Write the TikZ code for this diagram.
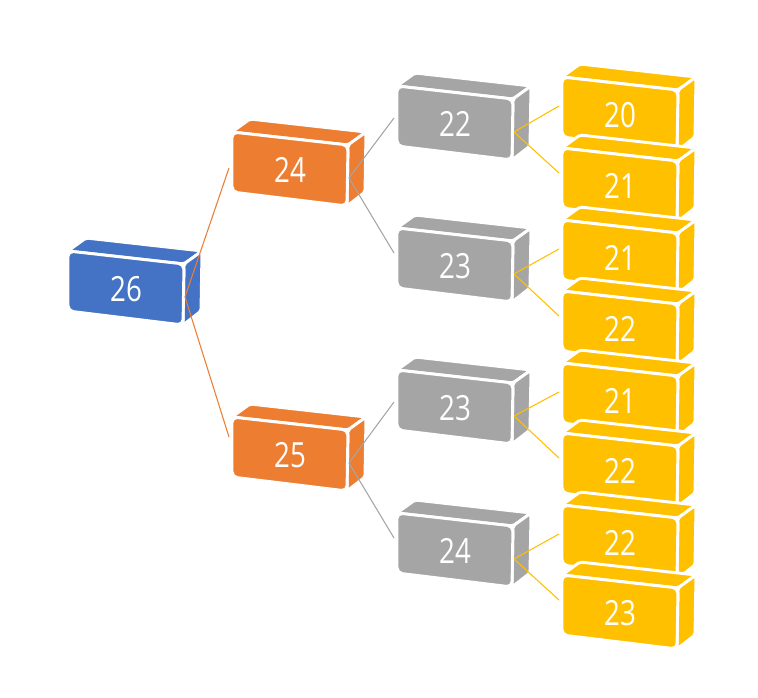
\documentclass[tikz,border=0pt]{standalone}
\usepackage{fontspec}
\setmainfont{Open Sans}
\definecolor{cblue}{HTML}{4472C4}
\definecolor{corange}{HTML}{ED7D31}
\definecolor{cgrey}{HTML}{A5A5A5}
\definecolor{cyellow}{HTML}{FFC000}
\tikzset{
  face/.style={draw=white,line width=2.2pt,line join=round,rounded corners=1.5pt},
  frontface/.style={draw=white,line width=2.2pt,line join=round,rounded corners=4pt},
  lbl/.style={text=white,font=\fontsize{26}{26}\selectfont,inner sep=0pt},
  conn/.style={line width=0.8pt}
}
\newcommand\mycube[6]{% name, x, y, color, label, in-offset
  \begin{scope}[shift={(#2,#3)}]
    \draw[face,fill=#4] (-1,-1) -- (115,12) -- (133,-1) -- (17,-14) -- cycle;
    \draw[face,fill=#4] (115,12) -- (133,-1) -- (132,59) -- (114,73) -- cycle;
    \draw[frontface,fill=#4] (-1,-1) -- (115,12) -- (114,73) -- (-1,59) -- cycle;
    \node[lbl] (#1) at (57,37) {\scalebox{0.8}[1]{#5}};
    \coordinate (#1-out) at (116,45);
    \coordinate (#1-in) at (-4,#6);
  \end{scope}}
\begin{document}
\begin{tikzpicture}[x=0.75pt,y=-0.75pt]
\useasboundingbox (0,0) rectangle (758,698);
\mycube{a26}{69}{252}{cblue}{26}{0}
\mycube{b24}{233}{133}{corange}{24}{35}
\mycube{b25}{233}{418}{corange}{25}{19}
\mycube{c22}{398}{87}{cgrey}{22}{31}
\mycube{c23a}{398}{229}{cgrey}{23}{24}
\mycube{c23b}{398}{371}{cgrey}{23}{31}
\mycube{c24}{398}{514}{cgrey}{24}{24}
\mycube{d20}{563}{78}{cyellow}{20}{28}
\mycube{d21a}{563}{149}{cyellow}{21}{24}
\mycube{d21b}{563}{221}{cyellow}{21}{28}
\mycube{d22a}{563}{292}{cyellow}{22}{24}
\mycube{d21c}{563}{364}{cyellow}{21}{28}
\mycube{d22b}{563}{434}{cyellow}{22}{24}
\mycube{d22c}{563}{506}{cyellow}{22}{28}
\mycube{d23}{563}{576}{cyellow}{23}{24}
\draw[conn,corange] (a26-out) -- (b24-in);
\draw[conn,corange] (a26-out) -- (b25-in);
\draw[conn,cgrey] (b24-out) -- (c22-in);
\draw[conn,cgrey] (b24-out) -- (c23a-in);
\draw[conn,cgrey] (b25-out) -- (c23b-in);
\draw[conn,cgrey] (b25-out) -- (c24-in);
\draw[conn,cyellow] (c22-out) -- (d20-in);
\draw[conn,cyellow] (c22-out) -- (d21a-in);
\draw[conn,cyellow] (c23a-out) -- (d21b-in);
\draw[conn,cyellow] (c23a-out) -- (d22a-in);
\draw[conn,cyellow] (c23b-out) -- (d21c-in);
\draw[conn,cyellow] (c23b-out) -- (d22b-in);
\draw[conn,cyellow] (c24-out) -- (d22c-in);
\draw[conn,cyellow] (c24-out) -- (d23-in);
\end{tikzpicture}
\end{document}
